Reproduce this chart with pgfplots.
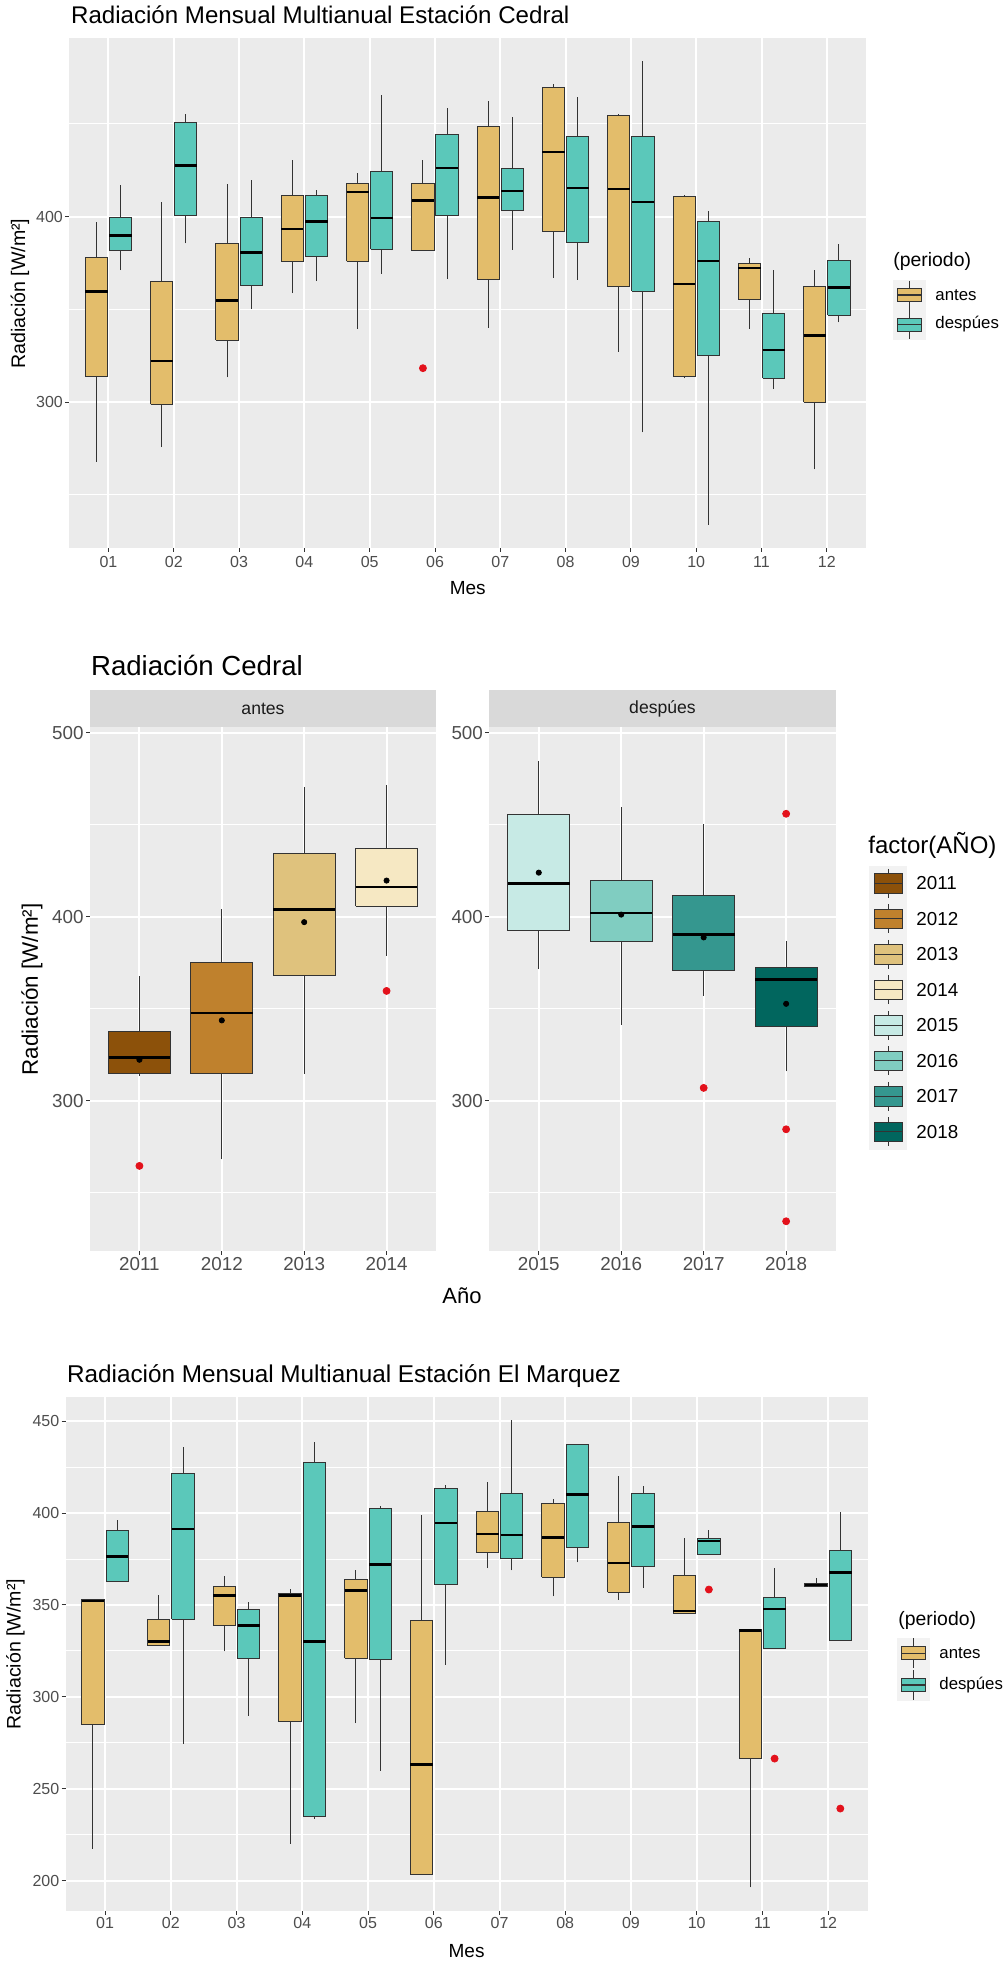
\documentclass[border=0pt]{standalone}
\usepackage{fontspec}
\setmainfont{Liberation Sans}
\usepackage{pgfplots}
\usepackage{pgfplotstable}
\pgfplotsset{compat=1.18}

\definecolor{panelbg}{HTML}{EBEBEB}
\definecolor{stripbg}{HTML}{D9D9D9}
\definecolor{keybg}{HTML}{F2F2F2}
\definecolor{ticktxt}{HTML}{4D4D4D}
\definecolor{tickln}{HTML}{333333}
\definecolor{striptxt}{HTML}{1A1A1A}
\definecolor{antes}{HTML}{E3BD6B}
\definecolor{desp}{HTML}{5BC8BA}
\definecolor{outl}{HTML}{E3111B}
\definecolor{yA0}{HTML}{8C510A}
\definecolor{yA1}{HTML}{BF812D}
\definecolor{yA2}{HTML}{DFC27D}
\definecolor{yA3}{HTML}{F6E8C3}
\definecolor{yB0}{HTML}{C7EAE5}
\definecolor{yB1}{HTML}{80CDC1}
\definecolor{yB2}{HTML}{35978F}
\definecolor{yB3}{HTML}{01665E}

\newcommand\fs[1]{\fontsize{#1}{#1}\selectfont}

% ---------- Cedral monthly ----------
\pgfplotstableread{
lw lq med uq uw
267.9 313.8 359.7 378.0 397.1
275.7 298.8 322.2 365.0 408.0
313.4 333.3 354.7 385.4 417.5
358.8 375.9 393.4 411.3 430.5
339.5 375.9 413.2 417.9 423.5
381.5 381.5 408.8 417.9 430.5
340.1 366.3 410.3 448.4 462.3
367.1 391.8 435.0 469.8 471.4
327.2 362.1 414.8 454.7 455.3
312.8 313.8 363.6 411.1 411.5
339.5 355.6 372.2 374.7 377.6
263.8 300.0 335.8 362.3 371.0
}\cedA
\pgfplotstableread{
lw lq med uq uw
371.2 381.5 389.9 399.8 416.9
385.6 400.6 427.6 451.0 455.6
350.2 363.0 380.7 399.8 419.8
365.2 378.6 397.3 411.3 414.4
369.1 382.3 399.4 424.3 465.8
366.3 400.6 426.3 444.4 458.4
382.1 403.3 413.8 425.9 453.7
366.0 386.0 415.4 443.4 464.4
283.7 359.9 407.8 443.4 483.9
234.0 325.3 376.1 397.5 403.1
307.0 313.0 328.0 347.7 371.0
343.0 346.9 361.7 376.5 385.0
}\cedD
\pgfplotstableread{
x y
5.815 318.3
}\cedOut

% ---------- Cedral yearly ----------
\pgfplotstableread{
lw lq med uq uw
313.5 314.6 323.5 337.4 368.0
268.2 314.6 347.8 375.0 404.4
314.6 368.2 403.9 434.2 470.6
378.9 405.8 416.3 436.9 471.6
}\yrA
\pgfplotstableread{
lw lq med uq uw
371.6 392.5 418.0 455.8 484.5
341.3 386.4 402.2 419.9 459.5
357.0 370.6 390.3 411.7 450.7
316.0 340.3 366.0 372.3 386.7
}\yrB
\pgfplotstableread{
x y
1 322.3
2 343.7
3 397.1
4 419.7
}\yrMeanA
\pgfplotstableread{
x y
1 424.0
2 401.2
3 388.8
4 352.7
}\yrMeanB
\pgfplotstableread{
x y
1 264.6
4 359.7
}\yrOutA
\pgfplotstableread{
x y
3 307.0
4 456.0
4 284.5
4 234.5
}\yrOutB

% ---------- El Marquez monthly ----------
\pgfplotstableread{
lw lq med uq uw
217.3 284.7 352.3 353.0 353.0
327.7 327.7 330.0 342.1 355.5
324.8 339.0 355.1 359.8 366.0
220.0 286.5 355.1 356.1 358.8
285.7 321.1 358.0 363.6 368.9
203.1 203.1 263.1 341.3 399.2
370.1 378.8 388.7 400.8 417.1
354.7 365.0 386.8 405.4 407.6
352.8 356.8 372.8 395.1 420.4
345.6 345.6 346.7 366.2 386.4
196.3 266.4 336.2 336.6 336.8
359.8 359.8 360.9 361.9 364.8
}\marA
\pgfplotstableread{
lw lq med uq uw
362.7 362.7 376.5 390.5 396.1
274.6 342.1 391.4 421.8 435.8
289.6 320.7 338.8 347.3 351.8
233.6 235.0 330.0 427.6 438.9
259.8 320.5 372.0 402.5 404.1
317.4 361.1 394.6 413.4 415.4
368.9 375.1 388.1 410.5 450.7
373.2 381.1 410.1 437.1 437.7
359.4 370.8 392.8 410.5 414.6
377.3 377.3 384.8 386.4 390.9
326.1 326.1 347.7 353.9 369.9
330.8 330.8 367.7 379.6 400.6
}\marD
\pgfplotstableread{
x y
10.185 358.4
11.185 266.4
12.185 239.2
}\marOut

\pgfplotsset{
  gg/.style={
    scale only axis, enlargelimits=false,
    axis background/.style={fill=panelbg},
    axis line style={draw=none},
    tick align=outside, xtick pos=left, ytick pos=left,
    major tick length=2pt, minor tick length=0pt,
    tick style={draw=tickln, line width=0.5pt},
    xmajorgrids, ymajorgrids, yminorgrids,
    major grid style={draw=white, line width=1pt},
    minor grid style={draw=white, line width=0.5pt},
    /pgf/number format/assume math mode=true,
    ticklabel style={text=ticktxt, inner sep=1pt},
    clip=false,
  },
}

% one box from row #2 of table #1: fill #3, position #4, width #5
\newcommand\bxrow[5]{%
  \pgfplotstablegetelem{#2}{lw}\of#1\let\vlw\pgfplotsretval
  \pgfplotstablegetelem{#2}{lq}\of#1\let\vlq\pgfplotsretval
  \pgfplotstablegetelem{#2}{med}\of#1\let\vmed\pgfplotsretval
  \pgfplotstablegetelem{#2}{uq}\of#1\let\vuq\pgfplotsretval
  \pgfplotstablegetelem{#2}{uw}\of#1\let\vuw\pgfplotsretval
  \pgfmathsetmacro\vx{#4}%
  \pgfmathsetmacro\vxl{#4-#5/2}%
  \pgfmathsetmacro\vxr{#4+#5/2}%
  \edef\tmp{%
    \noexpand\addplot[draw=tickln, line width=0.5pt, forget plot] coordinates {(\vx,\vlw) (\vx,\vlq)};
    \noexpand\addplot[draw=tickln, line width=0.5pt, forget plot] coordinates {(\vx,\vuq) (\vx,\vuw)};
    \noexpand\addplot[draw=tickln, line width=0.5pt, fill=#3, forget plot] coordinates {(\vxl,\vlq) (\vxr,\vlq) (\vxr,\vuq) (\vxl,\vuq) (\vxl,\vlq)};
    \noexpand\addplot[draw=black, line width=1.25pt, forget plot] coordinates {(\vxl,\vmed) (\vxr,\vmed)};
  }%
  \tmp
}

\newcommand\lkey[6]{%
  \draw[tickln, line width=0.5pt] (#1,{#2-#6}) -- (#1,{#2+#6});
  \draw[tickln, line width=0.5pt, fill=#3] ({#1-#4},{#2-#5}) rectangle ({#1+#4},{#2+#5});
  \draw[tickln, line width=0.6pt] ({#1-#4},#2) -- ({#1+#4},#2);
}

\begin{document}
\begin{tikzpicture}
\path[use as bounding box] (0pt,0pt) rectangle (502pt,-982pt);

% ================= Panel 1 =================
\begin{axis}[gg, at={(34.65pt,-273.85pt)}, anchor=south west,
  width=398.35pt, height=255pt,
  xmin=0.4, xmax=12.6, ymin=221.5, ymax=496.5,
  xtick={1,2,3,4,5,6,7,8,9,10,11,12},
  xticklabels={01,02,03,04,05,06,07,08,09,10,11,12},
  ytick={300,400}, minor ytick={250,350,450},
  ticklabel style={font=\fs{8}},
  xticklabel style={yshift=-1pt},
]
\pgfplotsinvokeforeach{0,...,11}{
  \bxrow{\cedA}{#1}{antes}{#1+0.815}{0.34}
  \bxrow{\cedD}{#1}{desp}{#1+1.185}{0.34}
}
\addplot[only marks, mark=*, mark size=1.75pt, mark options={draw=outl, fill=outl}] table[x=x,y=y] {\cedOut};
\end{axis}

% ================= Panel 2 =================
\begin{axis}[gg, at={(45pt,-625.35pt)}, anchor=south west,
  width=173pt, height=261.7pt,
  xmin=0.4, xmax=4.6, ymin=218.5, ymax=503,
  xtick={1,2,3,4}, xticklabels={2011,2012,2013,2014},
  ytick={300,400,500}, minor ytick={250,350,450},
  ticklabel style={font=\fs{9.4}},
]
\pgfplotsinvokeforeach{0,...,3}{
  \bxrow{\yrA}{#1}{yA#1}{#1+1}{0.75}
}
\addplot[only marks, mark=*, mark size=1.75pt, mark options={draw=outl, fill=outl}] table[x=x,y=y] {\yrOutA};
\addplot[only marks, mark=*, mark size=1.3pt, mark options={draw=black, fill=black}] table[x=x,y=y] {\yrMeanA};
\end{axis}

\begin{axis}[gg, at={(244.65pt,-625.35pt)}, anchor=south west,
  width=173.15pt, height=261.7pt,
  xmin=0.4, xmax=4.6, ymin=218.5, ymax=503,
  xtick={1,2,3,4}, xticklabels={2015,2016,2017,2018},
  ytick={300,400,500}, minor ytick={250,350,450},
  ticklabel style={font=\fs{9.4}},
]
\pgfplotsinvokeforeach{0,...,3}{
  \bxrow{\yrB}{#1}{yB#1}{#1+1}{0.75}
}
\addplot[only marks, mark=*, mark size=1.75pt, mark options={draw=outl, fill=outl}] table[x=x,y=y] {\yrOutB};
\addplot[only marks, mark=*, mark size=1.3pt, mark options={draw=black, fill=black}] table[x=x,y=y] {\yrMeanB};
\end{axis}

% ================= Panel 3 =================
\begin{axis}[gg, at={(32.85pt,-955.35pt)}, anchor=south west,
  width=400.95pt, height=257.05pt,
  xmin=0.4, xmax=12.6, ymin=183.6, ymax=463.4,
  xtick={1,2,3,4,5,6,7,8,9,10,11,12},
  xticklabels={01,02,03,04,05,06,07,08,09,10,11,12},
  ytick={200,250,300,350,400,450}, minor ytick={225,275,325,375,425},
  ticklabel style={font=\fs{8}},
]
\pgfplotsinvokeforeach{0,...,11}{
  \bxrow{\marA}{#1}{antes}{#1+0.815}{0.34}
  \bxrow{\marD}{#1}{desp}{#1+1.185}{0.34}
}
\addplot[only marks, mark=*, mark size=1.75pt, mark options={draw=outl, fill=outl}] table[x=x,y=y] {\marOut};
\end{axis}

% ================= Texts, strips, legends =================
\begin{scope}[x=0.5pt, y=-0.5pt]
\node[anchor=base west, inner sep=0, font=\fs{12.05}] at (70.7,24) {Radiación Mensual Multianual Estación Cedral};
\node[anchor=base west, inner sep=0, font=\fs{13.8}] at (90.7,675) {Radiación Cedral};
\node[anchor=base west, inner sep=0, font=\fs{12.15}] at (66.7,1382.7) {Radiación Mensual Multianual Estación El Marquez};
\node[rotate=90, inner sep=0, font=\fs{9.8}] at (20,293.7) {Radiación [W/m²]};
\node[inner sep=0, font=\fs{9.5}] at (467.7,588.5) {Mes};
\node[rotate=90, inner sep=0, font=\fs{11.2}] at (32,989.4) {Radiación [W/m²]};
\node[inner sep=0, font=\fs{11}] at (462,1296) {Año};
\node[rotate=90, inner sep=0, font=\fs{9.8}] at (15.5,1654) {Radiación [W/m²]};
\node[inner sep=0, font=\fs{9.5}] at (466.6,1951) {Mes};
\fill[stripbg] (90,690.4) rectangle (436,727.3);
\fill[stripbg] (489.3,690.4) rectangle (835.6,727.3);
\node[font=\fs{8.8}, text=striptxt] at (263,708.8) {antes};
\node[font=\fs{8.8}, text=striptxt] at (662.5,708.8) {despúes};
\node[anchor=west, inner sep=0, font=\fs{9.7}] at (893,261) {(periodo)};
\fill[keybg] (893,280) rectangle (926,339.5);
\lkey{909.5}{295}{antes}{12.2}{6.5}{14.5}
\lkey{909.5}{324.5}{desp}{12.2}{6.5}{14.5}
\node[anchor=west, inner sep=0, font=\fs{8.4}] at (935,295) {antes};
\node[anchor=west, inner sep=0, font=\fs{8.4}] at (935,324.5) {despúes};
\node[anchor=west, inner sep=0, font=\fs{9.7}] at (898,1620) {(periodo)};
\fill[keybg] (897,1637.5) rectangle (930,1700.8);
\lkey{913.5}{1653.3}{antes}{12.2}{6.5}{15}
\lkey{913.5}{1685}{desp}{12.2}{6.5}{15}
\node[anchor=west, inner sep=0, font=\fs{8.4}] at (939,1653.3) {antes};
\node[anchor=west, inner sep=0, font=\fs{8.4}] at (939,1685) {despúes};
\node[anchor=west, inner sep=0, font=\fs{12}] at (868,845) {factor(AÑO)};
\fill[keybg] (869,865.5) rectangle (907,1149.5);
\lkey{888}{883.3}{yA0}{14}{9.7}{14.5}
\lkey{888}{918.8}{yA1}{14}{9.7}{14.5}
\lkey{888}{954.3}{yA2}{14}{9.7}{14.5}
\lkey{888}{989.8}{yA3}{14}{9.7}{14.5}
\lkey{888}{1025.3}{yB0}{14}{9.7}{14.5}
\lkey{888}{1060.8}{yB1}{14}{9.7}{14.5}
\lkey{888}{1096.3}{yB2}{14}{9.7}{14.5}
\lkey{888}{1131.8}{yB3}{14}{9.7}{14.5}
\node[anchor=west, inner sep=0, font=\fs{9.4}] at (916,883.3) {2011};
\node[anchor=west, inner sep=0, font=\fs{9.4}] at (916,918.8) {2012};
\node[anchor=west, inner sep=0, font=\fs{9.4}] at (916,954.3) {2013};
\node[anchor=west, inner sep=0, font=\fs{9.4}] at (916,989.8) {2014};
\node[anchor=west, inner sep=0, font=\fs{9.4}] at (916,1025.3) {2015};
\node[anchor=west, inner sep=0, font=\fs{9.4}] at (916,1060.8) {2016};
\node[anchor=west, inner sep=0, font=\fs{9.4}] at (916,1096.3) {2017};
\node[anchor=west, inner sep=0, font=\fs{9.4}] at (916,1131.8) {2018};
\end{scope}
\end{tikzpicture}
\end{document}
